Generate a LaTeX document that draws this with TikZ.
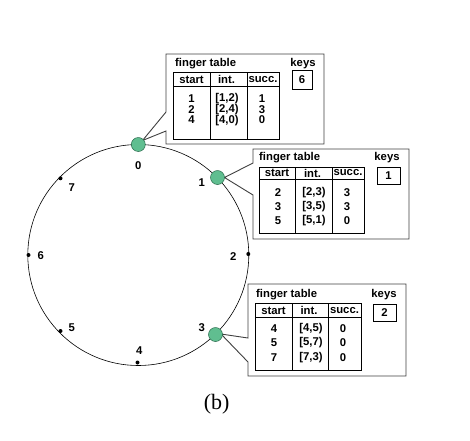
\documentclass[tikz,border=0pt]{standalone}
\usepackage{fontspec}
\setmainfont{Liberation Sans}
\newfontfamily\capserif{Liberation Serif}
\definecolor{peergreen}{RGB}{96,190,144}
\definecolor{peerdark}{RGB}{40,105,75}
\begin{document}
\begin{tikzpicture}[x=1pt,y=-1pt]
\useasboundingbox (0,0) rectangle (470,440);
\tikzset{
 lbl/.style={font=\fontsize{11.3}{12}\selectfont\bfseries, inner sep=0pt},
 callout/.style={draw=black!75, line width=0.9pt, fill=white, line join=miter},
 tbl/.style={draw=black, line width=0.8pt},
 ring/.style={draw=black, line width=0.6pt},
 peer/.style={circle, fill=peergreen, draw=peerdark, line width=0.5pt, minimum size=14pt, inner sep=0pt},
 dotpt/.style={circle, fill=black, minimum size=4pt, inner sep=0pt},
}
% ring
\coordinate (c) at (138.3,255);
\draw[ring] (c) circle (110.5pt);
% callout outlines
\coordinate (t0) at (142.5,140.5);
\coordinate (t1) at (224.5,177.5);
\coordinate (t3) at (221,334);
\draw[callout] (166,112) -- (166,54) -- (324,54) -- (324,144) -- (166,144) -- (166,131) -- (t0) -- cycle;
\draw[callout] (253,163) -- (253,149) -- (409,149) -- (409,239) -- (253,239) -- (253,195) -- (t1) -- cycle;
\draw[callout] (248,338) -- (248,284) -- (406,284) -- (406,376) -- (248,376) -- (248,362) -- (t3) -- cycle;
% ring points
\node[peer] (n0) at (138.3,144.5) {};
\node[peer] (n1) at (217.5,177.5) {};
\node[peer] (n3) at (215.5,334.5) {};
\node[dotpt] (n2) at (248.3,254) {};
\node[dotpt] (n4) at (137.5,362.5) {};
\node[dotpt] (n5) at (60.5,331) {};
\node[dotpt] (n6) at (28.5,255) {};
\node[dotpt] (n7) at (60.5,178.3) {};
% ring labels
\node[lbl] (l0) at (138.3,166) {0};
\node[lbl] (l1) at (201.7,182.7) {1};
\node[lbl] (l2) at (233.3,256.7) {2};
\node[lbl] (l3) at (201.7,327.3) {3};
\node[lbl] (l4) at (139.3,350.7) {4};
\node[lbl] (l5) at (71.7,327.3) {5};
\node[lbl] (l6) at (40.7,256) {6};
\node[lbl] (l7) at (71.7,187.3) {7};
% table for node 0
\draw[tbl] (173,72) rectangle (279,139);
\draw[tbl] (173,86) -- (279,86);
\draw[tbl] (210,72) -- (210,139);
\draw[tbl] (247,72) -- (247,139);
\node[lbl,anchor=west] (ft0) at (175,63.5) {finger table};
\node[lbl] (k0) at (303,63.5) {keys};
\draw[tbl] (292,70) rectangle (312,89);
\node[lbl] (kv0) at (302,79.5) {6};
\node[lbl] (h0a) at (191.5,79.5) {start};
\node[lbl] (h0b) at (226.5,79.5) {int.};
\node[lbl] (h0c) at (263,79.5) {succ.};
\node[lbl] at (191.5,98.5) {1};
\node[lbl] at (227,98.5) {[1,2)};
\node[lbl] at (262,98.5) {1};
\node[lbl] at (191.5,109.3) {2};
\node[lbl] at (227,109.3) {[2,4)};
\node[lbl] at (262,109.3) {3};
\node[lbl] at (191.5,120.1) {4};
\node[lbl] at (227,120.1) {[4,0)};
\node[lbl] at (262,120.1) {0};
% table for node 1
\draw[tbl] (259,167) rectangle (364,233);
\draw[tbl] (259,179) -- (364,179);
\draw[tbl] (295,167) -- (295,233);
\draw[tbl] (332,167) -- (332,233);
\node[lbl,anchor=west] (ft1) at (259,157.3) {finger table};
\node[lbl] (k1) at (387,157.3) {keys};
\draw[tbl] (377,167) rectangle (400,184);
\node[lbl] (kv1) at (388.5,175.5) {1};
\node[lbl] at (277,173) {start};
\node[lbl] at (312.5,173) {int.};
\node[lbl] at (348,173) {succ.};
\node[lbl] at (278,192.3) {2};
\node[lbl] at (314,192.3) {[2,3)};
\node[lbl] at (347,192.3) {3};
\node[lbl] at (278,206.7) {3};
\node[lbl] at (314,206.7) {[3,5)};
\node[lbl] at (347,206.7) {3};
\node[lbl] at (278,220.9) {5};
\node[lbl] at (314,220.9) {[5,1)};
\node[lbl] at (347,220.9) {0};
% table for node 3
\draw[tbl] (255,303) rectangle (361,370);
\draw[tbl] (255,317) -- (361,317);
\draw[tbl] (292,303) -- (292,370);
\draw[tbl] (328,303) -- (328,370);
\node[lbl,anchor=west] (ft3) at (256,295) {finger table};
\node[lbl] (k3) at (384,295) {keys};
\draw[tbl] (373,304) rectangle (396,321);
\node[lbl] (kv3) at (384.5,312.5) {2};
\node[lbl] at (273.5,310.5) {start};
\node[lbl] at (309,310.5) {int.};
\node[lbl] at (344.5,310.5) {succ.};
\node[lbl] at (274,328.5) {4};
\node[lbl] at (311,328.5) {[4,5)};
\node[lbl] at (343,328.5) {0};
\node[lbl] at (274,343) {5};
\node[lbl] at (311,343) {[5,7)};
\node[lbl] at (343,343) {0};
\node[lbl] at (274,358) {7};
\node[lbl] at (311,358) {[7,3)};
\node[lbl] at (343,358) {0};
% caption
\node[font=\capserif\fontsize{22}{26}\selectfont, inner sep=0pt] (cap) at (216.7,404.5) {(b)};
\end{tikzpicture}
\end{document}
